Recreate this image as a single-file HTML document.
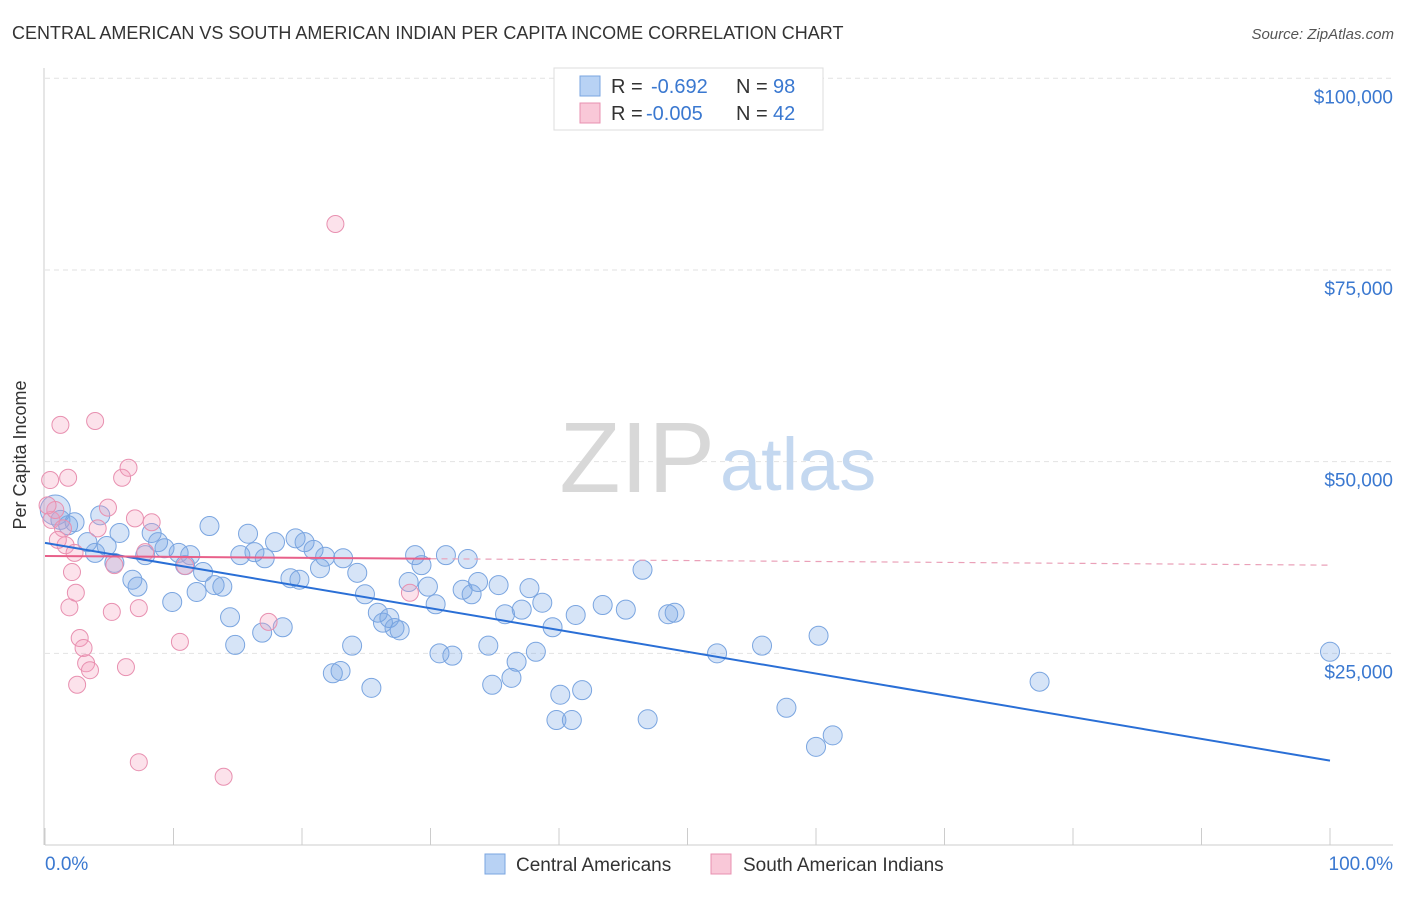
<!DOCTYPE html>
<html><head><meta charset="utf-8"><style>
body{margin:0;background:#fff;font-family:"Liberation Sans",sans-serif;}
svg text{font-family:"Liberation Sans",sans-serif;}
</style></head><body>
<svg width="1406" height="892" xmlns="http://www.w3.org/2000/svg">
<text x="12" y="39" font-size="18" fill="#333">CENTRAL AMERICAN VS SOUTH AMERICAN INDIAN PER CAPITA INCOME CORRELATION CHART</text>
<text x="1394" y="39" font-size="15" fill="#555" text-anchor="end" font-style="italic">Source: ZipAtlas.com</text>
<g id="grid"></g>
<text x="715" y="492" font-size="100" fill="#d8d8d8" text-anchor="end" font-family="Liberation Serif">ZIP</text>
<text x="720" y="490" font-size="74" fill="#c4d8f0">atlas</text>
<g id="axes"></g>
<g id="pts"></g>
<g id="lines"></g>
<text x="26" y="455" font-size="18" fill="#333" text-anchor="middle" transform="rotate(-90 26 455)">Per Capita Income</text>
<text x="45" y="870" font-size="19" fill="#3a78d0">0.0%</text>
<text x="1393" y="870" font-size="19" fill="#3a78d0" text-anchor="end">100.0%</text>
<g>
<rect x="554" y="68" width="269" height="62" fill="#fff" stroke="#ddd"/>
<rect x="580" y="76" width="20" height="20" fill="#b8d2f4" stroke="#7aa5e0"/>
<rect x="580" y="103" width="20" height="20" fill="#f9c8d8" stroke="#e890b0"/>
<text x="611" y="93" font-size="20" fill="#333">R = <tspan x="651" fill="#3a78d0">-0.692</tspan><tspan x="736">N = </tspan><tspan x="773" fill="#3a78d0">98</tspan></text>
<text x="611" y="120" font-size="20" fill="#333">R = <tspan x="646" fill="#3a78d0">-0.005</tspan><tspan x="736">N = </tspan><tspan x="773" fill="#3a78d0">42</tspan></text>
</g>
<g>
<rect x="485" y="854" width="20" height="20" fill="#b8d2f4" stroke="#7aa5e0"/>
<text x="516" y="871" font-size="19" fill="#333">Central Americans</text>
<rect x="711" y="854" width="20" height="20" fill="#f9c8d8" stroke="#e890b0"/>
<text x="743" y="871" font-size="19" fill="#333">South American Indians</text>
</g>
</svg>
<script>
const yTicks=[25,50,75,100];
const yTickLabels=["$25,000","$50,000","$75,000","$100,000"];
const xTicks=[0,10,20,30,40,50,60,70,80,90,100];
const blueX=[0.8,1.2,1.8,2.3,3.3,3.9,4.3,4.8,5.4,5.8,6.8,7.2,7.8,8.3,8.8,9.3,9.9,10.4,10.9,11.3,11.8,12.3,12.8,13.2,13.8,14.4,14.8,15.2,15.8,16.3,16.9,17.1,17.9,18.5,19.1,19.5,19.8,20.2,20.9,21.4,21.8,22.4,23.0,23.2,23.9,24.3,24.9,25.4,25.9,26.3,26.8,27.2,27.6,28.3,28.8,29.3,29.8,30.4,30.7,31.2,31.7,32.5,32.9,33.2,33.7,34.5,34.8,35.3,35.8,36.3,36.7,37.1,37.7,38.2,38.7,39.5,40.1,39.8,41.0,41.3,41.8,43.4,45.2,46.5,46.9,48.5,49.0,52.3,55.8,57.7,60.0,60.2,61.3,77.4,100];
const blueY=[43.7,42.4,41.7,42.1,39.5,38.1,43.0,39.0,36.8,40.7,34.6,33.7,37.8,40.7,39.5,38.7,31.7,38.1,36.5,37.8,33.0,35.6,41.6,33.9,33.7,29.7,26.1,37.8,40.6,38.2,27.7,37.4,39.5,28.4,34.8,40.0,34.6,39.5,38.5,36.1,37.6,22.4,22.7,37.4,26.0,35.5,32.7,20.5,30.3,29.0,29.6,28.3,28.0,34.3,37.8,36.5,33.7,31.4,25.0,37.8,24.7,33.3,37.3,32.7,34.3,26.0,20.9,33.9,30.1,21.8,23.9,30.7,33.5,25.2,31.6,28.4,19.6,16.3,16.3,30.0,20.2,31.3,30.7,35.9,16.4,30.1,30.3,25.0,26.0,17.9,12.8,27.3,14.3,21.3,25.2];
const pinkX=[0.4,0.5,0.8,1.2,1.4,1.6,1.8,1.9,2.1,2.3,2.4,2.5,2.7,3.0,3.2,3.5,3.9,4.1,4.9,5.2,5.4,6.0,6.3,6.5,7.0,7.3,7.3,7.8,8.3,10.5,10.9,13.9,17.4,22.6,28.4,0.2,1.0];
const pinkY=[47.6,42.4,43.7,54.8,41.3,39.1,47.9,31.0,35.6,38.1,32.9,20.9,27.0,25.7,23.7,22.8,55.3,41.3,44.0,30.4,36.5,47.9,23.2,49.2,42.6,30.9,10.8,38.2,42.1,26.5,36.4,8.9,29.1,81.0,32.9,44.3,39.8];
const blueTrend=[39.4,11.0];
const pinkTrend=[37.7,36.5];
const pinkSolidEnd=30;
const NS="http://www.w3.org/2000/svg";
const X=v=>45+v*12.85, Y=v=>845-v*7.667;
function mk(tag,attrs,parent){const e=document.createElementNS(NS,tag);for(const k in attrs)e.setAttribute(k,attrs[k]);parent.appendChild(e);return e;}
const grid=document.getElementById('grid'),axes=document.getElementById('axes'),pts=document.getElementById('pts'),lines=document.getElementById('lines');
yTicks.forEach((t,i)=>{
 const l=mk('line',{x1:45,x2:1393,y1:Y(t),y2:Y(t),stroke:'#e2e2e2','stroke-dasharray':'5,4'},grid);
 
 
 const tx=mk('text',{x:1393,y:Y(t)+25,'font-size':19,fill:'#3a78d0','text-anchor':'end'},grid);
 tx.textContent=yTickLabels[i];
 
 
});
const ax=mk('line',{x1:45,x2:1393,y1:845,y2:845,stroke:'#ccc'},axes);


const ay=mk('line',{x1:44,x2:44,y1:68,y2:845,stroke:'#ccc'},axes);


xTicks.forEach(t=>{
 const l=mk('line',{x1:X(t),x2:X(t),y1:828,y2:845,stroke:'#ccc'},axes);
 
 
});
blueX.forEach((x,i)=>{
 const c=mk('circle',{cx:X(x),cy:Y(blueY[i]),r:i==0?15:9.5,fill:'rgba(120,165,230,0.3)',stroke:'#7aa5e0','stroke-width':1},pts);
 
 
});
pinkX.forEach((x,i)=>{
 const c=mk('circle',{cx:X(x),cy:Y(pinkY[i]),r:8.5,fill:'rgba(245,160,190,0.3)',stroke:'#e890b0','stroke-width':1},pts);
 
 
});
const bl=mk('line',{x1:X(0),y1:Y(blueTrend[0]),x2:X(100),y2:Y(blueTrend[1]),stroke:'#2a6fd6','stroke-width':2},lines);


const pAt=x=>pinkTrend[0]+(pinkTrend[1]-pinkTrend[0])*x/100;
const pl=mk('line',{x1:X(0),y1:Y(pAt(0)),x2:X(pinkSolidEnd),y2:Y(pAt(pinkSolidEnd)),stroke:'#e8608a','stroke-width':2},lines);


const pd=mk('line',{x1:X(pinkSolidEnd),y1:Y(pAt(pinkSolidEnd)),x2:X(100),y2:Y(pAt(100)),stroke:'#eaa0b8','stroke-width':1.2,'stroke-dasharray':'6,5'},lines);


</script>
</body></html>
